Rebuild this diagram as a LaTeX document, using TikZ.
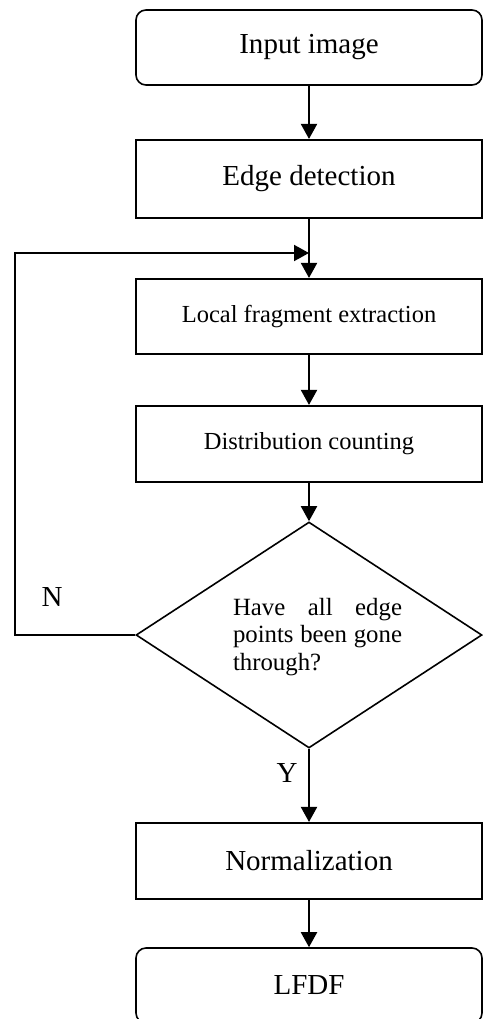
\documentclass[tikz,border=0pt]{standalone}
\usepackage{fontspec}
\setmainfont{Liberation Serif}
\usetikzlibrary{arrows.meta,shapes.geometric}
\begin{document}
\begin{tikzpicture}[x=1pt,y=-1pt,
  stepbox/.style={draw, line width=2.1pt, minimum width=346pt, inner sep=0pt, font=\fontsize{29}{33}\selectfont},
  smallbox/.style={stepbox, font=\fontsize{24.5}{28}\selectfont},
  roundbox/.style={stepbox, line width=1.6pt, rounded corners=10pt},
  decision/.style={draw, diamond, line width=1.6pt, minimum width=346pt, minimum height=226pt, inner sep=0pt},
  arr/.style={line width=2pt, -{Triangle[length=15pt,width=16pt]}},
  lbl/.style={font=\fontsize{29}{33}\selectfont, inner sep=0pt}
]
\useasboundingbox (0,0) rectangle (482,1019);
\fill[white] (0,0) rectangle (482,1019);

\node[roundbox, minimum height=75pt] (in) at (309,47.5) {Input image};
\node[stepbox, minimum height=78pt] (det) at (309,179) {Edge detection};
\node[smallbox, minimum height=75pt] (lfe) at (309,316.5) {Local fragment extraction};
\node[smallbox, minimum height=76pt] (dc) at (309,444) {Distribution counting};
\node[decision] (dec) at (309,635) {};
\node[inner sep=0pt, align=left, font=\fontsize{24.8}{27.5}\selectfont] (dect) at (317.5,637)
  {\makebox[169pt][s]{Have all edge}\\\makebox[169pt][s]{points been gone}\\through?};
\node[stepbox, minimum height=76pt] (nrm) at (309,861) {Normalization};
\node[roundbox, minimum height=75pt] (lfdf) at (309,985.5) {LFDF};

\coordinate (merge) at (309,253);
\coordinate (lp) at (15,635);

\draw[arr] (in) -- (det);
\draw[arr] (det) -- (lfe);
\draw[arr] (lfe) -- (dc);
\draw[arr] (dc) -- (dec);
\draw[arr] (dec) -- (nrm);
\draw[arr] (nrm) -- (lfdf);
\draw[arr] (dec.west) -- (lp) |- (merge);

\node[lbl] (nlab) at (52,597) {N};
\node[lbl] (ylab) at (287,773) {Y};
\end{tikzpicture}
\end{document}
